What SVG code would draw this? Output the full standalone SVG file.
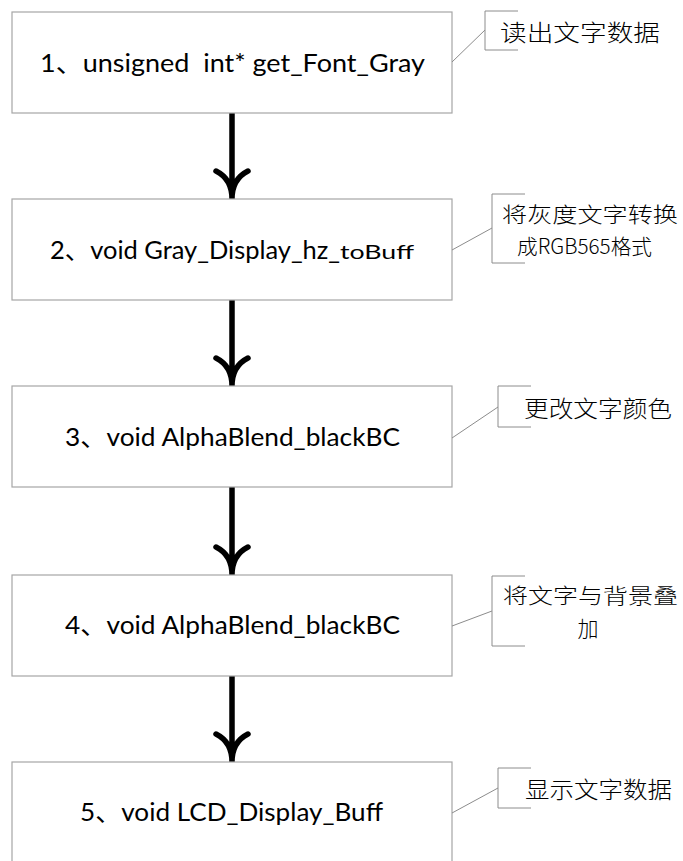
<svg xmlns="http://www.w3.org/2000/svg" width="683" height="861" viewBox="0 0 683 861">
<style>
.box{fill:#ffffff;stroke:#a6a6a6;stroke-width:1.2}
.t{font-family:Lato,"Open Sans","Liberation Sans","Noto Sans CJK SC",sans-serif;font-size:25px;fill:#000}
.ts{font-size:19px}
.c{font-family:"Noto Sans CJK SC","Noto Sans CJK JP",sans-serif;font-size:23px;fill:#000;font-weight:300}
.c2{font-size:21px}
.co{fill:none;stroke:#8c8c8c;stroke-width:1}
.arr{fill:none;stroke:#000;stroke-width:5.5;stroke-linecap:round;stroke-linejoin:round}
</style>
<rect width="683" height="861" fill="#ffffff"/>
<g id="connectors">
<path class="arr" d="M232,112 V197 M216,171 Q232,179 232,199 Q232,179 248,171"/>
<path class="arr" d="M232,299 V384 M216,358 Q232,366 232,386 Q232,366 248,358"/>
<path class="arr" d="M232,486 V573 M216,547 Q232,555 232,575 Q232,555 248,547"/>
<path class="arr" d="M232,675 V760 M216,734 Q232,742 232,762 Q232,742 248,734"/>
</g>
<g id="node1">
<rect class="box" x="12" y="12" width="440" height="101"/>
<text class="t" x="40" y="72" textLength="385" lengthAdjust="spacingAndGlyphs">1、unsigned&#160; int* get_Font_Gray</text>
</g>
<g id="node2">
<rect class="box" x="12" y="199" width="440" height="101"/>
<text class="t" x="50" y="259"><tspan textLength="290" lengthAdjust="spacingAndGlyphs">2、void Gray_Display_hz_</tspan><tspan class="ts" textLength="74" lengthAdjust="spacingAndGlyphs">toBuff</tspan></text>
</g>
<g id="node3">
<rect class="box" x="12" y="386" width="440" height="101"/>
<text class="t" x="65" y="446" textLength="335" lengthAdjust="spacingAndGlyphs">3、void AlphaBlend_blackBC</text>
</g>
<g id="node4">
<rect class="box" x="12" y="575" width="440" height="101"/>
<text class="t" x="65" y="634" textLength="335" lengthAdjust="spacingAndGlyphs">4、void AlphaBlend_blackBC</text>
</g>
<g id="node5">
<rect class="box" x="12" y="762" width="440" height="101"/>
<text class="t" x="80" y="821" textLength="303" lengthAdjust="spacingAndGlyphs">5、void LCD_Display_Buff</text>
</g>
<g id="callout1">
<path class="co" d="M452,62 L485,30 M518,11 H485 V50 H518"/>
<text class="c" x="500" y="31" dominant-baseline="central" textLength="160" lengthAdjust="spacingAndGlyphs">读出文字数据</text>
</g>
<g id="callout2">
<path class="co" d="M452,250 L492,228 M525,194 H492 V263 H525"/>
<text class="c c2" x="502" y="213" dominant-baseline="central" textLength="176" lengthAdjust="spacingAndGlyphs">将灰度文字转换</text>
<text class="c c2" x="517" y="245" dominant-baseline="central" textLength="135" lengthAdjust="spacingAndGlyphs">成RGB565格式</text>
</g>
<g id="callout3">
<path class="co" d="M452,438 L498,407 M531,386 H498 V427 H531"/>
<text class="c" x="524" y="407" dominant-baseline="central" textLength="148" lengthAdjust="spacingAndGlyphs">更改文字颜色</text>
</g>
<g id="callout4">
<path class="co" d="M452,626 L492,611 M525,576 H492 V646 H525"/>
<text class="c c2" x="503" y="594" dominant-baseline="central" textLength="175" lengthAdjust="spacingAndGlyphs">将文字与背景叠</text>
<text class="c c2" x="588" y="627" dominant-baseline="central" text-anchor="middle">加</text>
</g>
<g id="callout5">
<path class="co" d="M452,813 L498,788 M531,768 H498 V808 H531"/>
<text class="c" x="525" y="788" dominant-baseline="central" textLength="147" lengthAdjust="spacingAndGlyphs">显示文字数据</text>
</g>
</svg>
